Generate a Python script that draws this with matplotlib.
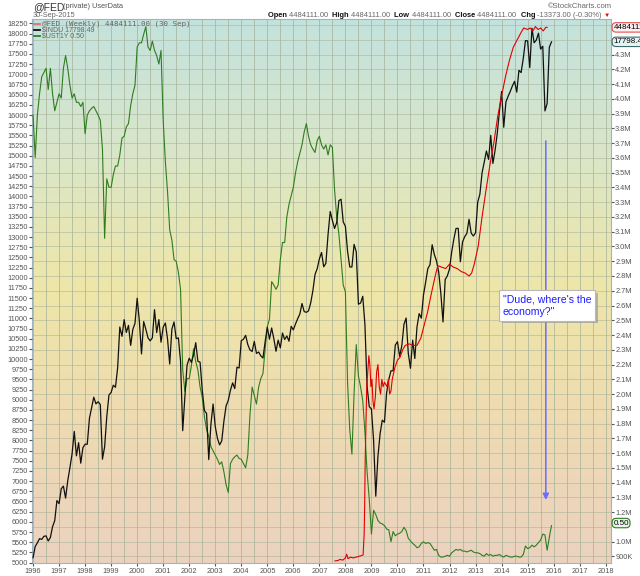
import numpy as np
import matplotlib
matplotlib.use("Agg")
import matplotlib.pyplot as plt
import matplotlib.transforms as mtransforms
from matplotlib.colors import LinearSegmentedColormap
from matplotlib.ticker import FuncFormatter, MultipleLocator

# $INDU, month-start levels Jan 1996 .. Dec 2015
dow = [
    5117, 5395, 5485, 5587, 5569, 5643, 5655, 5529, 5616, 5882, 6029, 6522,
    6448, 6813, 6878, 6584, 7009, 7331, 7673, 8223, 7622, 7945, 7442, 7823,
    7908, 7907, 8546, 8800, 9063, 8900, 8952, 8883, 7539, 7843, 8592, 9117,
    9181, 9359, 9307, 9786, 10789, 10560, 10971, 10655, 10829, 10337, 10729, 10878,
    11497, 10941, 10128, 10922, 10734, 10522, 10448, 10522, 11215, 10651, 10971, 10415,
    10787, 10887, 10495, 9879, 10735, 10912, 10502, 10523, 9950, 8240, 9075, 9852,
    10021, 9920, 10106, 10404, 9946, 9925, 9243, 8737, 8664, 7530, 8397, 8896,
    8342, 8054, 7891, 7992, 8480, 8850, 8985, 9233, 9415, 9275, 9801, 9782,
    10454, 10488, 10584, 10358, 10226, 10188, 10435, 10140, 10174, 10080, 10027, 10428,
    10783, 10490, 10766, 10504, 10193, 10467, 10275, 10641, 10482, 10569, 10440, 10806,
    10718, 10865, 10993, 11109, 11367, 11168, 11150, 11186, 11381, 11679, 12081, 12222,
    12463, 12622, 12269, 12354, 13063, 13628, 13409, 13212, 13358, 13896, 13930, 13372,
    13265, 12650, 12266, 12263, 12820, 12638, 11350, 11378, 11544, 10851, 9325, 8829,
    8776, 8001, 6630, 7609, 8168, 8500, 8447, 9172, 9496, 9712, 9713, 10345,
    10428, 10067, 10325, 10857, 11009, 10137, 9774, 10466, 10015, 10788, 11118, 11006,
    11578, 11892, 12226, 12320, 12811, 12570, 12414, 12143, 11614, 10913, 11955, 12046,
    12218, 12633, 12952, 13212, 13214, 12393, 12880, 13009, 13091, 13437, 13096, 13026,
    13104, 13861, 14054, 14579, 14840, 15116, 14910, 15500, 14810, 15130, 15546, 16086,
    16577, 15699, 16322, 16458, 16581, 16717, 16827, 16563, 17098, 17043, 17391, 17828,
    17823, 17165, 18133, 17776, 17841, 18011, 17620, 17690, 16100, 16285, 17664, 17798,
]

# $UST1Y (%), month-start levels Jan 1996 .. Dec 2015
ust1y = [
    5.30, 4.80, 5.30, 5.55, 5.75, 5.80, 5.85, 5.60, 5.85, 5.55, 5.35, 5.45,
    5.55, 5.50, 5.85, 6.00, 5.85, 5.65, 5.50, 5.55, 5.45, 5.45, 5.40, 5.45,
    5.08, 5.30, 5.35, 5.38, 5.40, 5.35, 5.30, 5.24, 4.90, 3.85, 4.55, 4.45,
    4.45, 4.60, 4.70, 4.70, 4.83, 5.03, 5.05, 5.16, 5.20, 5.41, 5.55, 5.65,
    6.10, 6.15, 6.15, 6.25, 6.34, 6.10, 6.06, 6.17, 6.06, 6.00, 5.90, 6.06,
    5.24, 4.75, 4.40, 3.95, 3.83, 3.60, 3.58, 3.45, 3.25, 2.30, 2.05, 2.20,
    2.20, 2.35, 2.55, 2.40, 2.30, 2.10, 1.98, 1.75, 1.60, 1.52, 1.40, 1.35,
    1.30, 1.25, 1.19, 1.22, 1.10, 0.95, 0.86, 1.20, 1.25, 1.28, 1.30, 1.26,
    1.25, 1.20, 1.15, 1.30, 1.77, 2.10, 2.00, 1.90, 2.10, 2.20, 2.26, 2.55,
    2.81, 2.90, 3.34, 3.30, 3.25, 3.30, 3.60, 3.80, 3.80, 4.10, 4.25, 4.35,
    4.45, 4.62, 4.75, 4.85, 4.95, 5.10, 5.20, 5.05, 4.95, 4.90, 4.86, 5.00,
    5.05, 4.95, 4.90, 4.95, 4.83, 4.95, 4.92, 4.42, 4.10, 3.90, 3.60, 3.30,
    3.22, 2.15, 1.60, 1.31, 2.02, 2.60, 2.23, 2.10, 1.94, 1.57, 1.10, 0.78,
    0.37, 0.65, 0.60, 0.53, 0.50, 0.49, 0.47, 0.43, 0.42, 0.28, 0.40, 0.35,
    0.37, 0.38, 0.40, 0.45, 0.41, 0.32, 0.29, 0.26, 0.24, 0.21, 0.22, 0.26,
    0.28, 0.26, 0.27, 0.26, 0.22, 0.18, 0.19, 0.12, 0.10, 0.10, 0.11, 0.12,
    0.11, 0.15, 0.17, 0.19, 0.18, 0.19, 0.17, 0.17, 0.16, 0.17, 0.18, 0.16,
    0.15, 0.15, 0.14, 0.12, 0.11, 0.14, 0.12, 0.13, 0.11, 0.12, 0.12, 0.13,
    0.11, 0.10, 0.12, 0.11, 0.10, 0.10, 0.11, 0.11, 0.10, 0.10, 0.13, 0.23,
    0.20, 0.21, 0.24, 0.22, 0.24, 0.27, 0.30, 0.37, 0.36, 0.18, 0.33, 0.47,
]

# @FED total assets (millions $)
fed_years = [
    2007.60, 2007.70, 2007.80, 2007.90, 2008.00, 2008.05, 2008.10, 2008.20, 2008.30,
    2008.40, 2008.50, 2008.60, 2008.68, 2008.72, 2008.74, 2008.76, 2008.79, 2008.82,
    2008.86, 2008.90, 2008.94, 2008.98, 2009.02, 2009.06, 2009.10, 2009.15, 2009.20,
    2009.25, 2009.30, 2009.35, 2009.40, 2009.45, 2009.50, 2009.60, 2009.65, 2009.70,
    2009.75, 2009.80, 2009.90, 2010.00, 2010.10, 2010.20, 2010.30, 2010.45, 2010.60,
    2010.75, 2010.90, 2011.00, 2011.15, 2011.30, 2011.45, 2011.55, 2011.70, 2011.85,
    2012.00, 2012.15, 2012.30, 2012.45, 2012.60, 2012.75, 2012.85, 2012.95, 2013.10,
    2013.25, 2013.40, 2013.55, 2013.70, 2013.85, 2014.00, 2014.15, 2014.30, 2014.45,
    2014.60, 2014.75, 2014.85, 2015.00, 2015.10, 2015.20, 2015.30, 2015.40, 2015.50,
    2015.60, 2015.70, 2015.75,
]
fed = [
    870000, 872000, 880000, 875000, 890000, 915000, 885000, 895000, 890000,
    895000, 900000, 905000, 910000, 1050000, 1250000, 1550000, 1800000, 2050000,
    2150000, 2260000, 2200000, 2050000, 2100000, 1950000, 1900000, 1980000, 2150000,
    2200000, 2050000, 2000000, 2100000, 2050000, 2080000, 2050000, 2100000, 2000000,
    2020000, 2100000, 2180000, 2230000, 2250000, 2300000, 2330000, 2340000, 2330000,
    2330000, 2380000, 2450000, 2550000, 2680000, 2800000, 2870000, 2860000, 2850000,
    2880000, 2860000, 2850000, 2830000, 2820000, 2800000, 2820000, 2880000, 3000000,
    3200000, 3380000, 3550000, 3700000, 3880000, 4020000, 4150000, 4260000, 4350000,
    4400000, 4450000, 4480000, 4470000, 4480000, 4460000, 4490000, 4470000, 4480000,
    4460000, 4485000, 4484111,
]

years = list(range(1996, 2019))
months_x = 1996 + np.arange(len(dow)) / 12.0
# right-axis labels that are not covered by the value boxes
fed_ticks = [900000, 1000000] + list(range(1200000, 4300001, 100000))

W, H = 640, 576
plt.rcParams["font.family"] = ["Liberation Sans", "DejaVu Sans"]
fig = plt.figure(figsize=(W / 100, H / 100), dpi=100)
fig.patch.set_facecolor("white")

x0, x1 = 32, 611
y0, y1 = 19, 563
ax = fig.add_axes([x0 / W, 1 - y1 / H, (x1 - x0) / W, (y1 - y0) / H])

xlim = (1995.96, 1995.96 + (x1 - x0) / 26.03)
fed_lim = (855700, 4541000)
dow_lim = (4988, 18360)
ust_lim = (0.03, 6.43)

# background gradient (teal top -> yellow -> peach bottom)
cmap = LinearSegmentedColormap.from_list(
    "bg", [(0, "#c3e2de"), (0.25, "#dae6c8"), (0.5, "#efe6a8"),
           (0.78, "#eed9b4"), (1, "#ebd2c0")])
grad = np.linspace(0, 1, 256).reshape(-1, 1)
ax.imshow(grad, cmap=cmap, aspect="auto", extent=[xlim[0], xlim[1], fed_lim[0], fed_lim[1]],
          zorder=0, interpolation="bicubic")
ax.set_xlim(xlim)
ax.set_ylim(fed_lim)

# grid
for yr in np.arange(1996, 2018.5, 0.5):
    ax.axvline(yr, color="#a3b096", lw=0.7, alpha=0.7, zorder=1)
for v in np.arange(900000, 4500001, 100000):
    ax.axhline(v, color="#a3b096", lw=0.6, alpha=0.6, zorder=1)

ax.set_xticks(years)
ax.set_xticklabels([str(y) for y in years])
ax.tick_params(axis="x", labelsize=5.3, colors="#555555", length=2, pad=1.5)
for s in ax.spines.values():
    s.set_color("#9fb3c0")
    s.set_linewidth(0.8)

# green: $UST1Y on hidden scale
ax_g = ax.twinx()
ax_g.set_ylim(ust_lim)
ax_g.set_xlim(xlim)
ax_g.plot(months_x, ust1y, color="#2f7d1f", lw=0.8)
ax_g.set_yticks([])

# black: $INDU on left scale
ax_d = ax.twinx()
ax_d.set_ylim(dow_lim)
ax_d.set_xlim(xlim)
ax_d.plot(months_x, dow, color="#111111", lw=0.9)
ax_d.yaxis.tick_left()
ax_d.yaxis.set_major_locator(MultipleLocator(250))
ax_d.tick_params(axis="y", labelsize=5.3, colors="#555555", length=2, pad=1)

# red: @FED on right scale
ax_f = ax.twinx()
ax_f.set_ylim(fed_lim)
ax_f.set_xlim(xlim)
ax_f.plot(fed_years, fed, color="#e00000", lw=0.8)
ax_f.set_yticks([])

for a in (ax_g, ax_d, ax_f):
    for s in a.spines.values():
        s.set_visible(False)

# right axis (@FED) ticks, set after the twins are made
ax.yaxis.tick_right()
ax.set_yticks(fed_ticks)
ax.yaxis.set_major_formatter(FuncFormatter(
    lambda v, p: f"{v / 1000:.0f}K" if v < 1e6 else f"{v / 1e6:.1f}M"))
ax.tick_params(axis="y", labelsize=5.3, colors="#555555", length=2, pad=1)

# annotation and arrow
ax_f.annotate("", xy=(2015.70, 1282500), xytext=(2015.70, 3715000),
              arrowprops=dict(arrowstyle="-|>", color="#6b6bff", lw=1.1,
                              mutation_scale=9, shrinkA=0, shrinkB=0), zorder=5)
note = "\"Dude, where's the\neconomy?\""
shadow = mtransforms.offset_copy(ax_f.transData, fig=fig, x=2, y=-2, units="points")
ax_f.text(2014.05, 2600000, note, color="none", fontsize=7.6, ha="left", va="center",
          linespacing=1.35, zorder=5, transform=shadow,
          bbox=dict(boxstyle="square,pad=0.35", fc="#9a9a9a", ec="none", alpha=0.7))
ax_f.text(2014.05, 2600000, note, color="#1c1cff", fontsize=7.6, ha="left", va="center",
          linespacing=1.35, zorder=6,
          bbox=dict(boxstyle="square,pad=0.35", fc="white", ec="#b8b8b8", lw=0.8))

# right-side value boxes
box_kw = dict(fontsize=5.8, va="center", ha="left", clip_on=False, zorder=7)
ax_f.text(1.004, 4484111, "4484111", transform=ax_f.get_yaxis_transform(), **box_kw,
          bbox=dict(boxstyle="round,pad=0.15,rounding_size=0.5", fc="#fdeeee", ec="#e05050", lw=0.8))
ax_d.text(1.004, 17798.49, "17798.49", transform=ax_d.get_yaxis_transform(), **box_kw,
          bbox=dict(boxstyle="round,pad=0.15,rounding_size=0.5", fc="#e6f2f2", ec="#3d6b6b", lw=0.8))
ax_g.text(1.004, 0.50, "0.50", transform=ax_g.get_yaxis_transform(), **box_kw,
          bbox=dict(boxstyle="round,pad=0.15,rounding_size=0.5", fc="#e8f5e8", ec="#2f7d1f", lw=0.8))

# legend in plot
legend_rows = [("@FED (Weekly) 4484111.00 (30 Sep)", "#e07070", "DejaVu Sans Mono", 5.4),
               ("$INDU 17798.49", "#111111", "Liberation Sans", 5.0),
               ("$UST1Y 0.50", "#2f7d1f", "Liberation Sans", 5.0)]
for i, (label, col, fam, fs) in enumerate(legend_rows):
    yy = 1 - (24 + i * 6.2 - y0) / (y1 - y0)
    ax_f.plot([0.004, 0.013], [yy, yy], transform=ax_f.transAxes, color=col, lw=1.3, zorder=8)
    ax_f.text(0.017, yy, label, transform=ax_f.transAxes, fontsize=fs, family=fam,
              color="#666666", va="center", ha="left", zorder=8)

# header
fig.text(33 / W, 1 - 7 / H, "@FED", fontsize=7.5, color="#333333", va="center", ha="left")
fig.text(63 / W, 1 - 7 / H, "(private) UserData", fontsize=5.3, color="#555555", va="center", ha="left")
fig.text(33 / W, 1 - 15.5 / H, "30-Sep-2015", fontsize=5.3, color="#666666", va="center", ha="left")
fig.text(612 / W, 1 - 6 / H, "\u00a9StockCharts.com", fontsize=5.5, color="#666666", va="center", ha="right")

parts = [("Open ", True), ("4484111.00  ", False), ("High ", True), ("4484111.00  ", False),
         ("Low ", True), ("4484111.00  ", False), ("Close ", True), ("4484111.00  ", False),
         ("Chg ", True), ("-13373.00 (-0.30%) ", False), ("\u25bc", False)]
fig.canvas.draw()
r = fig.canvas.get_renderer()
header_texts = []
xpos = 0.0
for txt, bold in parts:
    col = "#d01010" if txt == "\u25bc" else ("#111111" if bold else "#666666")
    t = fig.text(xpos, 1 - 15.5 / H, txt, fontsize=4.5 if txt == "\u25bc" else 5.4,
                 fontweight="bold" if bold else "normal", color=col, va="center", ha="left",
                 family=["Liberation Sans", "DejaVu Sans"])
    xpos += t.get_window_extent(renderer=r).width / W
    header_texts.append(t)
shift = 610 / W - xpos
for t in header_texts:
    px, py = t.get_position()
    t.set_position((px + shift, py))

fig.savefig("out.png", dpi=100)
